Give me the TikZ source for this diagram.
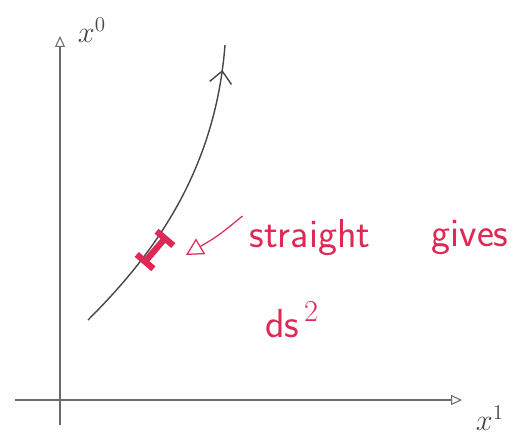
\documentclass[tikz,border=0pt]{standalone}
\usepackage{tikz}
\usetikzlibrary{arrows.meta,decorations.markings}
\definecolor{inkred}{RGB}{222,40,85}
\definecolor{pencil}{RGB}{70,70,70}
\tikzset{
  axis/.style={-{Triangle[open,length=2.2mm,width=2mm]},line width=0.6pt,pencil!80},
  worldline/.style={line width=0.8pt,pencil,
    postaction={decorate},decoration={markings,
      mark=at position 0.92 with {\arrow{Straight Barb[length=2.4mm,width=4.4mm]}}}}, % oriented path
  piece/.style={{Bar[width=4.4mm]}-{Bar[width=4.4mm]},line width=3.6pt,inkred},
  pointer/.style={-{Triangle[open,length=3.4mm,width=3.6mm]},line width=0.7pt,inkred},
  note/.style={font=\sffamily\fontsize{23}{26}\selectfont,text=inkred,inner sep=1pt},
  axlbl/.style={font=\sffamily\fontsize{18}{21}\selectfont,text=pencil,inner sep=1pt},
}
\begin{document}
\begin{tikzpicture}[x=0.02cm,y=-0.02cm]
  \useasboundingbox (0,0) rectangle (527,436);
  % axes
  \coordinate (o) at (60,400);
  \coordinate (ytop) at (60,36);
  \coordinate (ybot) at (60,425);
  \coordinate (xlft) at (15,400);
  \coordinate (xrgt) at (462,400);
  \draw[axis] (ybot)--(ytop);
  \draw[axis] (xlft)--(xrgt);
  \node[axlbl] (lx0) at (92,30) {$x^0$};
  \node[axlbl] (lx1) at (490,418) {$x^1$};
  % world line
  \coordinate (wa) at (88,320);
  \coordinate (wb) at (225,45);
  \draw[worldline] (wa) .. controls (150,258) and (215,175) .. (wb);
  % small straight piece
  \coordinate (sa) at (143,264);
  \coordinate (sb) at (167,236);
  \draw[piece] (sa)--(sb);
  % remark
  \node[note] (txt1) at (310,238) {straight};
  \node[note] (txt2) at (470,238) {gives};
  \node[note] (txt3) at (292,320) {ds$^{\,2}$};
  \draw[pointer] (txt1.west) ++(-5,-22) coordinate (pa)
    .. controls (218,236) .. (186,255) coordinate (pb);
\end{tikzpicture}
\end{document}
